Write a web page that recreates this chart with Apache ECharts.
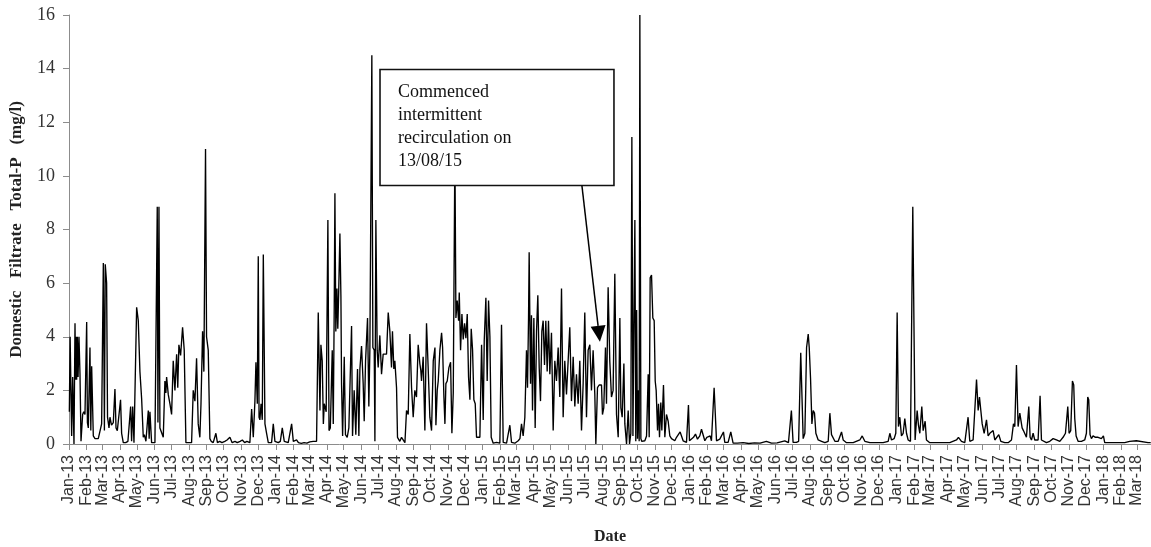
<!DOCTYPE html>
<html>
<head>
<meta charset="utf-8">
<script src="https://cdn.jsdelivr.net/npm/echarts@6/dist/echarts.min.js"></script>
<style>
html,body{margin:0;padding:0;background:#fff;}
#chart{width:1151px;height:547px;}
</style>
</head>
<body>
<div id="chart"></div>
<script>
// Month tick labels (axis starts 1 Jan 2013)
const monthLabels = [
 'Jan-13','Feb-13','Mar-13','Apr-13','May-13','Jun-13','Jul-13','Aug-13','Sep-13','Oct-13','Nov-13','Dec-13',
 'Jan-14','Feb-14','Mar-14','Apr-14','May-14','Jun-14','Jul-14','Aug-14','Sep-14','Oct-14','Nov-14','Dec-14',
 'Jan-15','Feb-15','Mar-15','Apr-15','May-15','Jun-15','Jul-15','Aug-15','Sep-15','Oct-15','Nov-15','Dec-15',
 'Jan-16','Feb-16','Mar-16','Apr-16','May-16','Jun-16','Jul-16','Aug-16','Sep-16','Oct-16','Nov-16','Dec-16',
 'Jan-17','Feb-17','Mar-17','Apr-17','May-17','Jun-17','Jul-17','Aug-17','Sep-17','Oct-17','Nov-17','Dec-17',
 'Jan-18','Feb-18','Mar-18'
];
const yTicks = [0,2,4,6,8,10,12,14,16];

// Observations: [days since 1 Jan 2013, Total-P (mg/l)]
const observations = [
[0.6,1.2],[2,4.0],[4.7,0.3],[6.5,2.5],[8.8,0],[10.6,4.5],[11.5,2.4],[12.3,4.0],[13.5,2.4],[14.7,4.0],[16,2.5],[17.6,4.0],[19.4,2.6],[21.2,0.1],[24.1,1.1],[26,1.2],[28.2,1.1],[31.2,4.55],[32.5,0.8],[34.1,0.6],[37,3.6],[38.5,0.5],[40,2.9],[42.9,0.3],[45.9,0.2],[48.5,0.25],[51.7,0.2],[54.5,0.15],[57.6,0.75],[60.6,6.75],[62.5,0.5],[64,6.7],[66.4,6.0],[68,1.0],[70.6,0.6],[72.3,1.0],[75,0.7],[78.2,0.8],[81.1,2.05],[83,0.6],[85.3,0.5],[88.8,0.5],[91,1.65],[92.9,0.4],[95.8,0.05],[100,0.05],[104,0.1],[107,0.05],[108.8,1.4],[110.5,0.1],[112.5,1.4],[114.7,0.05],[117,0.1],[119.4,5.1],[122.3,4.6],[125.2,2.7],[128.2,1.7],[131.1,0.25],[133,0.35],[135.8,0.1],[140,1.25],[141.5,0.2],[142.9,1.2],[145.8,0.05],[148,0.05],[151.7,0.05],[154,0.1],[155.8,8.85],[157,0.8],[158.8,8.85],[160.5,0.6],[163.5,0.55],[166.4,0.25],[169.3,2.35],[171,1.9],[172.3,2.5],[175.2,1.85],[178.2,1.5],[181.1,1.1],[184,3.1],[187,2.0],[190,3.35],[192,2.1],[194,3.7],[197,3.3],[200.5,4.35],[203.4,3.5],[206.4,0.05],[208,0.1],[210.5,0.05],[213,0.1],[216.4,0.05],[219.3,2.0],[222.3,1.6],[225.2,3.2],[228.1,0.75],[231,0.25],[233,1.5],[235.8,4.2],[238.1,2.7],[241,11.0],[242.8,4.0],[245.8,3.5],[248.7,0.2],[251,0.1],[254.6,0.05],[259.3,0.4],[262,0.05],[266,0.1],[270,0.05],[275,0.1],[279,0.15],[284,0.25],[288,0.05],[293,0.1],[297,0.05],[302,0.1],[306,0.15],[310,0.05],[314,0.1],[319.3,0.05],
[322.4,1.3],[325.3,0.25],[328.2,1.6],[330,3.05],[332.4,1.5],[334.1,7.0],[335.5,1.0],[337,0.9],[339,1.5],[341.2,0.9],[343,7.07],[345.9,0.75],[348.8,0.4],[351.8,0.05],[355,0.1],[357.6,0.05],[360.6,0.75],[363.5,0.1],[366,0.05],[369.4,0.05],[373,0.1],[376.5,0.6],[380,0.1],[383,0.05],[387,0.05],[390,0.1],[393,0.75],[396,0.1],[399,0.05],[401.7,0.15],[405,0.05],[410,0.02],[415,0.05],[420,0.03],[425,0.08],[428.2,0.03],[431,0.1],[434,0.05],[437,0.1],[440,4.9],[443,1.25],[444.7,3.7],[447,3.1],[449,0.75],[450.6,1.5],[454,1.2],[457,8.35],[459,0.5],[461.3,0.6],[464.7,3.5],[466.5,0.75],[468.2,5.1],[469.4,9.35],[471,4.2],[473,5.8],[474.5,4.3],[476,5.6],[478.2,7.85],[480,5.5],[481.1,2.25],[483,0.3],[485.9,3.25],[488,0.35],[491.1,0.25],[494,0.6],[498.8,4.4],[500.5,0.3],[503.4,2.0],[506.3,0.35],[509.3,2.8],[511.7,0.3],[513.5,2.8],[516.4,3.65],[519.3,2.25],[521.1,0.85],[523.5,3.1],[527,4.7],[529.3,1.4],[531.1,3.5],[534.6,14.5],[536.4,3.6],[538.8,3.5],[540,0.1],[541.7,8.35],[544,3.5],[545.8,2.85],[548.7,4.05],[551.7,2.6],[554.6,3.35],[557.6,3.35],[560.5,3.35],[563.5,4.9],[566.4,4.2],[569.3,2.85],[571,4.2],[573.4,2.8],[575.2,3.1],[578.2,2.1],[579.9,0.25],[584,0.1],[587,0.25],[590,0.3],[593,0.05],[595.8,1.25],[598.8,1.1],[601.7,4.1],[604.7,2.1],[607.6,1.0],[610.5,2.0],[613.4,1.75],[616.4,3.7],[619.3,3.0],[621,2.75],[622.3,2.35],[625.2,3.25],[628.2,0.5],[631.1,4.5],[634,2.85],[637,1.0],[640,0.5],[643,3.1],[646,3.6],
[647.7,0.7],[650,2.0],[651.8,2.35],[654.7,3.5],[657.7,4.15],[659.5,3.6],[661.8,1.75],[663.6,0.75],[665.3,2.25],[667.7,2.35],[670.6,2.85],[673.6,3.05],[675.9,0.4],[678.3,1.9],[681.2,11.0],[683,4.7],[685.3,5.35],[687.7,4.6],[688.9,5.65],[691.2,3.5],[693.6,4.85],[695.9,3.9],[698.3,4.5],[700.6,3.95],[703,4.85],[705.3,2.5],[707.7,1.65],[710,4.3],[712.4,3.5],[714.7,1.65],[717.1,1.5],[719.4,0.25],[722.4,0.2],[725.3,0.25],[728.3,3.7],[731.2,0.9],[733,3.85],[735.9,5.45],[738.2,2.35],[740.6,5.35],[743,4.0],[745.3,0.25],[748.8,0.03],[752,0.05],[754.7,0.06],[758,0.03],[760.6,0.03],[763.5,4.45],[766.5,0.06],[770,0.03],[772.4,0.03],[775,0.1],[778.2,0.7],[781.2,0.06],[784,0.03],[787,0.03],[790,0.1],[793,0.12],[796,0.2],[798.8,0.75],[801.7,0.3],[804.7,1.0],[807.6,3.5],[809.4,2.1],[811.2,4.7],[812.3,7.15],[814.7,2.25],[816.4,4.8],[818.2,1.25],[820.6,4.7],[822.9,0.6],[825.3,4.2],[827.6,5.55],[830,2.85],[832.3,1.6],[834.7,4.2],[837,4.6],[839.4,2.95],[841.7,4.6],[844.1,2.7],[846.4,4.6],[848.8,2.6],[851.7,4.15],[854.7,0.5],[857.6,3.1],[860.5,2.35],[863.5,3.6],[866.4,1.75],[869.4,5.8],[872.3,1.0],[875.2,3.1],[878.2,1.85],[881.1,3.1],[884,4.35],[887,1.6],[890,3.25],[892.9,1.4],[895.8,2.6],[898.8,1.5],[901.7,3.1],[904.7,0.5],[907.6,2.25],[910.5,4.9],[913.5,1.0],[916.4,3.5],[919.4,3.7],[922.3,2.0],[925.2,3.5],[928.2,1.85],[930,0],[932.9,2.1],[935.8,2.2],[940,2.2],[941.7,1.1],[944,1.35],[947,3.6],[948.8,1.5],[951.7,5.85],[954.6,3.1],[957.6,1.75],[960.5,2.0],[963.5,6.35],
[966.5,1.1],[969.5,0.25],[972.4,4.7],[974.2,1.35],[976.5,1.0],[979.5,3.0],[981.2,0.75],[984.2,0],[987.1,1.25],[989.5,0],[991.8,0.4],[993.6,11.45],[995.5,0.3],[997,4.0],[998.9,8.35],[1000.5,0.1],[1002,5.0],[1003.5,0.2],[1005,2.0],[1006.5,0.1],[1007.7,16.0],[1009.5,0.2],[1011,0.1],[1013.6,0.06],[1016.5,0.12],[1019.5,0.3],[1022.4,2.6],[1024.2,0.25],[1025.9,6.2],[1028.3,6.3],[1030.6,4.7],[1033,4.6],[1034.8,2.35],[1036.5,2.0],[1038.9,0.5],[1040.6,1.5],[1042.4,0.25],[1044.7,1.55],[1046.5,0.5],[1049.4,2.2],[1051.8,0.25],[1054.7,1.1],[1057.7,0.85],[1060.6,0.3],[1063.6,0.2],[1066.5,0.25],[1069.4,0.12],[1072.4,0.25],[1075.3,0.25],[1078.8,0.45],[1081.2,0.5],[1084.1,0.12],[1087.1,0.1],[1090,0.06],[1093.5,1.45],[1095.3,0.12],[1098.8,0.06],[1102.4,0.25],[1105.9,0.37],[1109.4,0.18],[1113.5,0.3],[1116.5,0.55],[1119.4,0.5],[1122.4,0.12],[1125.9,0.25],[1129.4,0.18],[1131.8,0.3],[1134.1,0.12],[1136.5,0.18],[1138.8,2.1],[1141.2,2.05],[1143,0.12],[1145.9,0.12],[1148.8,0.18],[1151.8,0.12],[1155.3,0.45],[1157.6,0.06],[1163.5,0.06],[1168.2,0.45],[1170.6,0.4],[1172.3,0.03],[1180,0.03],[1190,0.05],[1200,0.02],[1210,0.04],[1220,0.03],[1231,0.1],[1240,0.03],[1250,0.04],[1263.5,0.12],[1270,0.05],[1275.2,1.25],[1278.2,0.06],[1284,0.06],[1288,0.1],
[1291.7,3.4],[1293.1,3.45],[1296,0.2],[1299,0.4],[1302,3.6],[1304.9,4.1],[1306.7,3.6],[1309,2.45],[1311.4,0.75],[1313.7,1.25],[1316,1.15],[1318.4,0.4],[1322.5,0.15],[1328.4,0.1],[1334.3,0.05],[1340.2,0.1],[1343.1,1.15],[1346,0.35],[1349,0.3],[1352,0.1],[1357.8,0.1],[1363.7,0.45],[1366.6,0.15],[1372.5,0.05],[1384.3,0.05],[1396,0.15],[1400.2,0.3],[1404.9,0.1],[1413.7,0.05],[1425.4,0.05],[1437.2,0.05],[1446,0.1],[1449,0.4],[1451.9,0.15],[1456.6,0.2],[1459.5,0.4],[1461.9,4.9],[1464.2,0.65],[1466.6,1.0],[1469.5,0.3],[1472.5,0.4],[1475.4,0.95],[1478.4,0.4],[1481.3,0.15],[1485.4,0.1],[1488.4,0.1],[1489.5,8.85],[1493.6,0.15],[1497.2,1.25],[1499.5,0.7],[1501.9,0.4],[1505.4,1.4],[1507.8,0.5],[1511.3,0.85],[1513.6,0.15],[1519.5,0.05],[1537.2,0.05],[1554.8,0.05],[1566.6,0.15],[1570.1,0.25],[1575.4,0.1],[1581.3,0.05],[1587.1,1.0],[1590.1,0.1],[1596,0.15],[1599,0.15],
[1602,2.4],[1604.9,1.25],[1607.2,1.75],[1609.6,1.25],[1612,0.75],[1615.5,0.4],[1619.6,0.9],[1622.5,0.3],[1625.5,0.4],[1628.4,0.35],[1631.3,0.5],[1634.3,0.15],[1637.2,0.2],[1641.3,0.35],[1644.9,0.1],[1651.9,0.05],[1657.8,0.05],[1663.7,0.15],[1667.2,0.75],[1669.6,0.65],[1672.5,2.95],[1675.4,0.65],[1678.4,1.15],[1680.1,1.1],[1682.5,0.6],[1684.8,0.5],[1687.2,0.45],[1690.1,0.25],[1691.9,0.25],[1694.3,1.4],[1696.6,0.25],[1699,0.15],[1701.9,0.4],[1704.8,0.15],[1707.8,0.1],[1710.7,0.15],[1714.2,1.8],[1716.6,0.15],[1719.5,0.1],[1725.4,0.05],[1731.3,0.1],[1737.2,0.2],[1743.1,0.15],[1749,0.1],[1754.8,0.25],[1759,0.4],[1763.1,1.4],[1765.4,0.4],[1768.3,0.5],[1771.3,2.35],[1773.6,2.2],[1775.4,0.95],[1777.8,0.3],[1781.3,0.1],[1787.2,0.1],[1793,0.15],[1796,0.4],[1798.3,1.75],[1800.1,1.65],[1802.4,0.35],[1804.8,0.2],[1807.7,0.3],[1811.9,0.25],[1816.6,0.25],[1822.4,0.2],[1826,0.3],[1828.3,0.05],[1846,0.05],[1863.6,0.05],[1872.4,0.1],[1884.2,0.12],[1887.2,0.05],[1904.8,0.05],[1909.5,0.05]
];

// Annotation, in data coordinates [day, value]
const noteText = 'Commenced\nintermittent\nrecirculation on\n13/08/15';
const noteBoxTopLeft = [549, 13.97];
const noteBoxBottomRight = [962, 9.64];
const arrowStart = [905.4, 9.64];
const arrowTip = [937.2, 3.81];

const DAY = 86400000;
const base = Date.UTC(2013, 0, 1);
const monthStartDay = monthLabels.map((_, i) => Math.round((Date.UTC(2013, i, 1) - base) / DAY));

const chart = echarts.init(document.getElementById('chart'), null, {renderer: 'canvas'});
const axisGray = '#8c8c8c';
chart.setOption({
  animation: false,
  backgroundColor: '#fff',
  grid: {left: 69, right: 0, top: 15, bottom: 103, containLabel: false, outerBoundsMode: 'none'},
  xAxis: {
    type: 'value', min: 0, max: 1910,
    axisLine: {show: true, lineStyle: {color: axisGray, width: 1}},
    axisTick: {show: true, customValues: monthStartDay, length: 6, lineStyle: {color: axisGray}},
    axisLabel: {
      customValues: monthStartDay, rotate: 90, margin: 11,
      showMinLabel: true, showMaxLabel: true, hideOverlap: false,
      formatter: v => monthLabels[monthStartDay.indexOf(Math.round(v))] || '',
      fontFamily: 'Liberation Sans', fontSize: 16, color: '#333'
    },
    splitLine: {show: false},
    name: 'Date', nameLocation: 'middle', nameGap: 85,
    nameTextStyle: {fontFamily: 'Liberation Serif', fontWeight: 'bold', fontSize: 16, color: '#222'}
  },
  yAxis: {
    type: 'value', min: 0, max: 16, interval: 2,
    axisLine: {show: true, lineStyle: {color: axisGray, width: 1}},
    axisTick: {show: true, length: 6, lineStyle: {color: axisGray}},
    axisLabel: {fontFamily: 'Liberation Serif', fontSize: 18, color: '#333', margin: 14,
      formatter: v => yTicks.indexOf(v) >= 0 ? String(v) : ''},
    splitLine: {show: false},
    name: 'Domestic   Filtrate   Total-P   (mg/l)', nameLocation: 'middle', nameGap: 44,
    nameTextStyle: {fontFamily: 'Liberation Serif', fontWeight: 'bold', fontSize: 17, color: '#222'}
  },
  series: [{
    type: 'line', data: observations, showSymbol: false, symbol: 'none',
    lineStyle: {color: '#000', width: 1.35}, z: 2
  }]
});

function px(p) { return chart.convertToPixel({gridIndex: 0}, p); }
const tl = px(noteBoxTopLeft), br = px(noteBoxBottomRight);
const a0 = px(arrowStart), a1 = px(arrowTip);
const dx = a1[0] - a0[0], dy = a1[1] - a0[1];
const len = Math.sqrt(dx * dx + dy * dy);
const ux = dx / len, uy = dy / len;
const headL = 16, headW = 7.5;
const bx = a1[0] - ux * headL, by = a1[1] - uy * headL;
chart.setOption({
  graphic: [
    {type: 'rect', z: 100, shape: {x: tl[0], y: tl[1], width: br[0] - tl[0], height: br[1] - tl[1]},
     style: {fill: '#fff', stroke: '#111', lineWidth: 1.6}},
    {type: 'text', z: 101, x: tl[0] + 18, y: tl[1] + 11,
     style: {text: noteText, font: '18px "Liberation Serif"', fill: '#111', lineHeight: 23, verticalAlign: 'top', align: 'left'}},
    {type: 'line', z: 101, shape: {x1: a0[0], y1: a0[1], x2: bx, y2: by}, style: {stroke: '#000', lineWidth: 1.5}},
    {type: 'polygon', z: 101, shape: {points: [[a1[0], a1[1]], [bx - uy * headW, by + ux * headW], [bx + uy * headW, by - ux * headW]]},
     style: {fill: '#000'}}
  ]
});
</script>
</body>
</html>
